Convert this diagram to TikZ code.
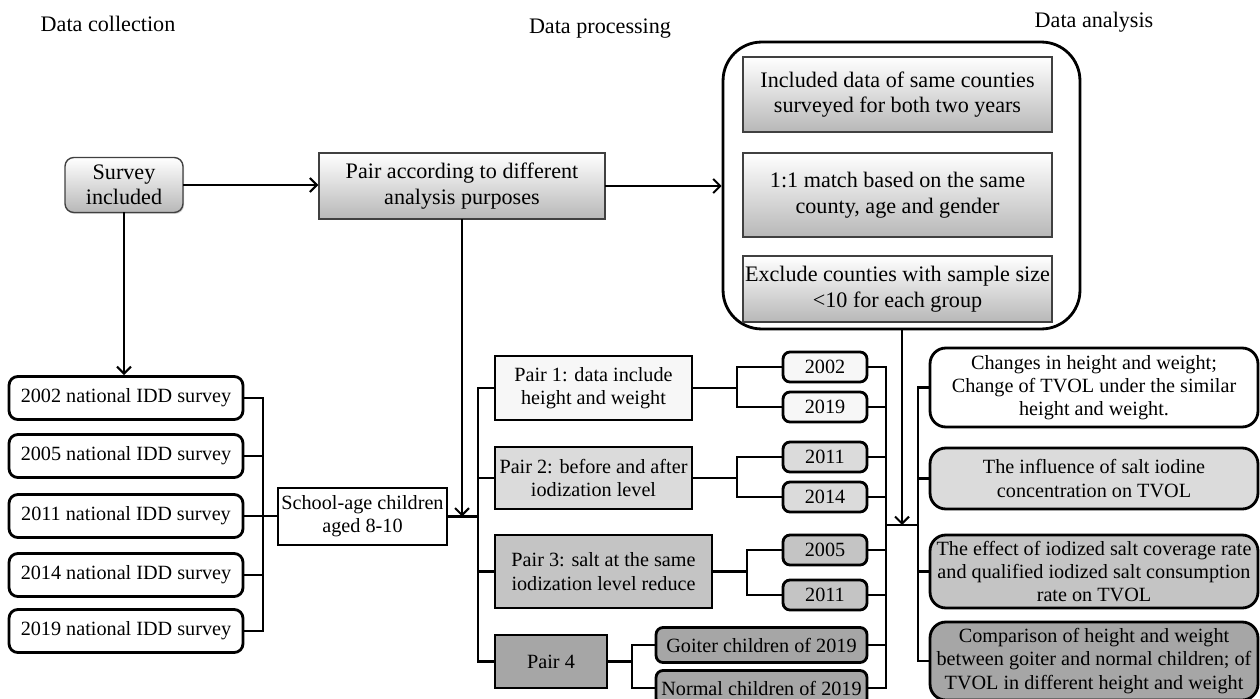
\documentclass[tikz,border=0pt]{standalone}
\usepackage{fontspec}
\setmainfont{Liberation Serif}
\usetikzlibrary{arrows.meta,shadows}
\definecolor{lvA}{gray}{0.97}
\definecolor{lvB}{gray}{0.86}
\definecolor{lvC}{gray}{0.77}
\definecolor{lvD}{gray}{0.65}
\tikzset{
  bigtext/.style={font=\fontsize{12.6}{14.5}\selectfont},
  grad/.style={bigtext, draw=black!75, line width=0.8pt, top color=white, bottom color=black!28,
    drop shadow={shadow xshift=0.6pt, shadow yshift=-0.8pt, opacity=0.35}, align=center, inner sep=1pt},
  survbox/.style={draw, line width=1.6pt, rounded corners=5pt, fill=white,
    minimum width=4.68cm, minimum height=0.86cm, inner sep=1pt},
  pairbox/.style={draw, line width=1.6pt, align=center, inner sep=1pt},
  yearbox/.style={draw, line width=1.6pt, rounded corners=4pt, inner sep=1pt,
    minimum width=1.68cm, minimum height=0.6cm},
  resbox/.style={draw, line width=1.6pt, rounded corners=9pt, align=center, inner sep=1pt,
    minimum width=6.56cm}
}
\begin{document}
\begin{tikzpicture}[x=0.02cm, y=-0.02cm, font=\fontsize{11.5}{13.2}\selectfont,
  line width=1.15pt, line cap=rect, >={Straight Barb[length=4pt,width=8pt]}]
\useasboundingbox (0,0) rectangle (1260,699);
\node[bigtext] (tcol) at (108,24) {Data collection};
\node[bigtext] (tpro) at (600,29) {Data processing};
\node[bigtext] (tana) at (1094,22) {Data analysis};

\node[grad, rounded corners=5pt, minimum width=2.36cm, minimum height=1.1cm] (surv) at (124,185) {Survey\\included};
\node[grad, minimum width=5.72cm, minimum height=1.32cm] (pairs) at (462,186) {Pair according to different\\analysis purposes};
\node[draw, line width=1.6pt, rounded corners=22pt, minimum width=7.14cm, minimum height=5.74cm] (frame) at (901.5,185.5) {};
\node[grad, minimum width=6.18cm, minimum height=1.5cm] (incl) at (897.5,94.5) {Included data of same counties\\surveyed for both two years};
\node[grad, minimum width=6.18cm, minimum height=1.68cm] (match) at (897.5,195) {1:1 match based on the same\\county, age and gender};
\node[grad, minimum width=6.18cm, minimum height=1.32cm] (excl) at (897.5,289) {Exclude counties with sample size\\<10 for each group};

\foreach \yr/\yy in {2002/398,2005/456,2011/516,2014/575,2019/631}
  \node[survbox] (s\yr) at (126,\yy) {\yr{} national IDD survey};
\node[pairbox, fill=white, minimum width=3.38cm, minimum height=1.14cm] (school) at (362.5,516.5) {School-age children\\aged 8-10};

\node[pairbox, fill=lvA, minimum width=3.94cm, minimum height=1.28cm] (p1) at (593.5,388) {Pair 1: data include\\height and weight};
\node[pairbox, fill=lvB, minimum width=3.94cm, minimum height=1.24cm] (p2) at (593.5,478) {Pair 2: before and after\\iodization level};
\node[pairbox, fill=lvC, minimum width=4.34cm, minimum height=1.46cm] (p3) at (603.5,571.5) {Pair 3: salt at the same\\iodization level reduce};
\node[pairbox, fill=lvD, minimum width=2.24cm, minimum height=1.06cm] (p4) at (551,661.5) {Pair 4};

\node[yearbox, fill=lvA] (ya1) at (825,367) {2002};
\node[yearbox, fill=lvA] (yb1) at (825,407) {2019};
\node[yearbox, fill=lvB] (ya2) at (825,457) {2011};
\node[yearbox, fill=lvB] (yb2) at (825,497) {2014};
\node[yearbox, fill=lvC] (ya3) at (825,550) {2005};
\node[yearbox, fill=lvC] (yb3) at (825,595) {2011};
\node[yearbox, fill=lvD, minimum width=4.22cm, minimum height=0.7cm] (ya4) at (761.5,645) {Goiter children of 2019};
\node[yearbox, fill=lvD, minimum width=4.22cm, minimum height=0.7cm] (yb4) at (761.5,688) {Normal children of 2019};

\node[resbox, fill=white, minimum height=1.58cm] (r1) at (1094,387.5) {Changes in height and weight;\\Change of TVOL under the similar\\height and weight.};
\node[resbox, fill=lvB, minimum height=1.22cm] (r2) at (1094,478.5) {The influence of salt iodine\\concentration on TVOL};
\node[resbox, fill=lvC, minimum height=1.46cm] (r3) at (1094,571.5) {The effect of iodized salt coverage rate\\and qualified iodized salt consumption\\rate on TVOL};
\node[resbox, fill=lvD, minimum height=1.56cm] (r4) at (1094,661) {Comparison of height and weight\\between goiter and normal children; of\\TVOL in different height and weight};

\draw[->] (surv.east) -- (surv.east -| pairs.west);
\draw[->] (pairs.east) -- (pairs.east -| frame.west);
\draw[->] (surv.south) -- (surv.south |- s2002.north);

\coordinate (b1) at (263,516);
\foreach \yr in {2002,2005,2011,2014,2019}
  \draw (s\yr.east) -- (s\yr.east -| b1);
\draw (s2002.east -| b1) -- (s2019.east -| b1);
\draw (b1) -- (b1 -| school.west);

\coordinate (b2) at (478,516.5);
\draw (school.east) -- (b2);
\draw (p1.west -| b2) -- (p4.west -| b2);
\foreach \p in {p1,p2,p3,p4}
  \draw (\p.west -| b2) -- (\p.west);
\draw[->] (pairs.south) -- (pairs.south |- school.east);

\coordinate (k1) at (737,388);
\coordinate (k2) at (737,478);
\coordinate (k3) at (747,571.5);
\coordinate (k4) at (632,661.5);
\foreach \i in {1,...,4} {
  \draw (p\i.east) -- (k\i);
  \draw (ya\i.west) -| (k\i) |- (yb\i.west);
}

\coordinate (b3) at (886,525);
\coordinate (b4) at (918,525);
\foreach \n in {ya1,yb1,ya2,yb2,ya3,yb3,ya4,yb4}
  \draw (\n.east) -- (\n.east -| b3);
\draw (ya1.east -| b3) -- (yb4.east -| b3);
\draw (b3) -- (b4);
\draw (r1.west -| b4) -- (r4.west -| b4);
\foreach \i in {1,...,4}
  \draw (r\i.west -| b4) -- (r\i.west);
\coordinate (c0) at (902,525);
\draw[->] (c0 |- frame.south) -- (c0);
\end{tikzpicture}
\end{document}
